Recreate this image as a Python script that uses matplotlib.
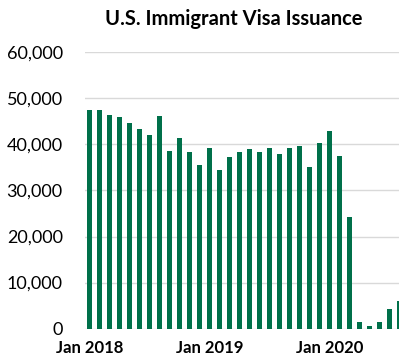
import matplotlib.pyplot as plt
import numpy as np

# monthly issuances, Jan 2018 - Aug 2020
months = [
    "2018-01", "2018-02", "2018-03", "2018-04", "2018-05", "2018-06",
    "2018-07", "2018-08", "2018-09", "2018-10", "2018-11", "2018-12",
    "2019-01", "2019-02", "2019-03", "2019-04", "2019-05", "2019-06",
    "2019-07", "2019-08", "2019-09", "2019-10", "2019-11", "2019-12",
    "2020-01", "2020-02", "2020-03", "2020-04", "2020-05", "2020-06",
    "2020-07", "2020-08",
]
visas = [
    47400, 47350, 46350, 46000, 44700, 43400, 42100, 46150, 38500, 41300,
    38350, 35450, 39200, 34450, 37300, 38250, 39050, 38250, 39200, 37850,
    39150, 39650, 35150, 40350, 42850, 37400, 24150, 1450, 600, 1500,
    4250, 6000,
]
tick_pos = [0, 12, 24]
tick_labels = ["Jan 2018", "Jan 2019", "Jan 2020"]
y_ticks = [0, 10000, 20000, 30000, 40000, 50000, 60000]

plt.rcParams["font.family"] = ["Lato", "DejaVu Sans"]

fig = plt.figure(figsize=(3.99, 3.62), dpi=100)
ax = fig.add_axes([0.213, 0.092, 0.787, 0.764])

x = np.arange(len(visas))
ax.bar(x, visas, width=0.5, color="#00704A", zorder=3)

ax.set_xlim(-0.5, 30.95)
ax.set_ylim(0, 60000)
ax.set_yticks(y_ticks)
ax.set_yticklabels([f"{v:,}" for v in y_ticks], fontsize=13)
ax.set_xticks(tick_pos)
ax.set_xticklabels(tick_labels, fontsize=12, fontweight="bold")
ax.tick_params(axis="x", length=0, pad=8)
ax.tick_params(axis="y", length=0, pad=16)

ax.grid(axis="y", color="#d9d9d9", linewidth=1, zorder=0)
for s in ax.spines.values():
    s.set_visible(False)

fig.text(0.587, 0.948, "U.S. Immigrant Visa Issuance", ha="center", va="center",
         fontsize=14.5, fontweight="bold")

fig.savefig("out.png", dpi=100)
